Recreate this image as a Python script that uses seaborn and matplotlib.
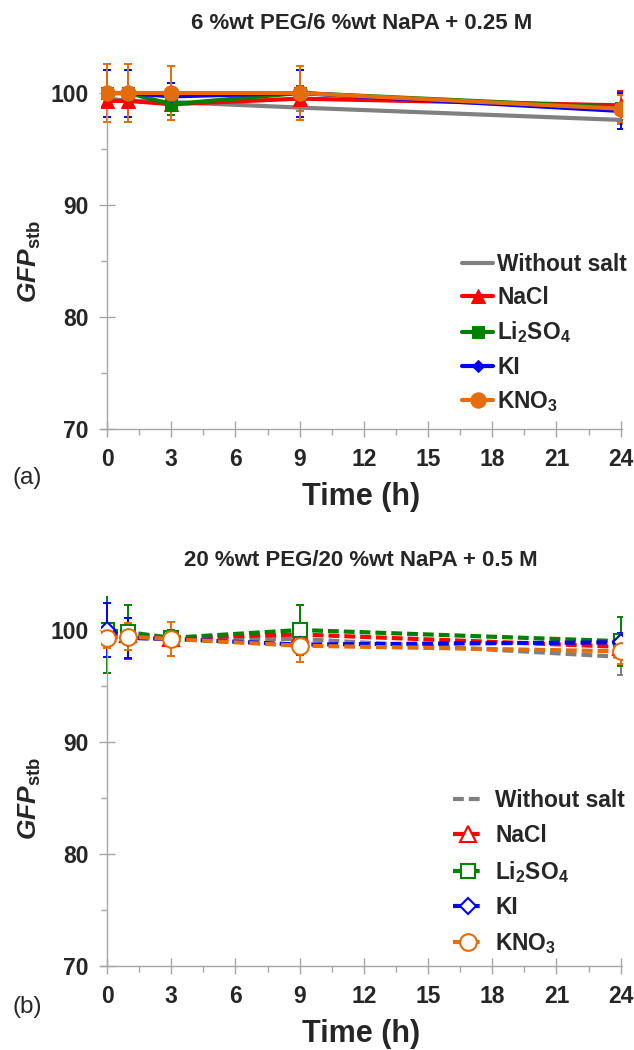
import matplotlib
matplotlib.use('Agg')
import matplotlib.pyplot as plt
import seaborn as sns
from matplotlib.ticker import MultipleLocator

sns.set_style('white')
plt.rcParams['font.family'] = ['Liberation Sans', 'DejaVu Sans']
plt.rcParams['font.weight'] = 'bold'
plt.rcParams['mathtext.fontset'] = 'custom'
plt.rcParams['mathtext.rm'] = 'Liberation Sans:bold'
plt.rcParams['mathtext.bf'] = 'Liberation Sans:bold'
plt.rcParams['mathtext.it'] = 'Liberation Sans:italic:bold'

# data
times = [0, 1, 3, 9, 24]
salts = ['Without salt', 'NaCl', 'Li$_2$SO$_4$', 'KI', 'KNO$_3$']
colors = ['#808080', '#FF0000', '#008000', '#0000FF', '#E46C0A']
markers = [None, '^', 's', 'D', 'o']

# (a) 6 %wt PEG/6 %wt NaPA + 0.25 M
a_vals = [
    [99.5, 99.3, 99.2, 98.7, 97.6],
    [99.3, 99.3, 99.0, 99.5, 98.9],
    [100.0, 100.0, 99.0, 100.0, 98.7],
    [100.0, 100.0, 99.7, 100.0, 98.4],
    [100.0, 100.0, 100.0, 100.0, 98.6],
]
a_err = [
    [0.3, 0.3, 0.3, 0.3, 0.4],
    [0.5, 0.5, 0.6, 0.8, 1.3],
    [0.4, 0.4, 1.0, 0.6, 1.2],
    [2.1, 2.1, 1.2, 2.1, 1.6],
    [2.6, 2.6, 2.4, 2.4, 1.2],
]
# (b) 20 %wt PEG/20 %wt NaPA + 0.5 M
b_vals = [
    [99.5, 99.3, 99.2, 99.2, 97.6],
    [99.7, 99.6, 99.3, 99.6, 98.5],
    [100.0, 99.8, 99.3, 100.0, 99.0],
    [100.0, 99.3, 99.2, 98.7, 98.9],
    [99.3, 99.4, 99.2, 98.6, 98.1],
]
b_err = [
    [0.5, 1.8, 0.6, 0.8, 1.6],
    [0.6, 0.8, 0.5, 0.8, 1.0],
    [3.8, 2.4, 0.7, 2.2, 2.2],
    [2.4, 1.8, 0.6, 0.6, 0.8],
    [0.9, 1.2, 1.5, 1.5, 1.1],
]

fig = plt.figure(figsize=(6.34, 10.5), dpi=100)
ax1 = fig.add_axes([0.1587, 0.5914, 0.822, 0.352])
ax2 = fig.add_axes([0.1587, 0.0800, 0.822, 0.352])

def draw(ax, vals, errs, dashed, title, leg_xy, lspace):
    for name, c, m, v, e in zip(salts, colors, markers, vals, errs):
        ax.errorbar(times, v, yerr=e, fmt='none', ecolor=c, elinewidth=1.4,
                    capsize=3, capthick=1.4, zorder=2)
        kw = dict(color=c, linewidth=3, ax=ax, label=name, zorder=3)
        if dashed:
            kw['linestyle'] = (0, (2.6, 1.2))
            if m:
                sz = {'^': 11, 's': 10.5, 'D': 8.5, 'o': 12}[m]
                kw.update(marker=m, markersize=sz, markerfacecolor='white',
                          markeredgecolor=c, markeredgewidth=1.5)
        elif m:
            sz = {'^': 10, 's': 9, 'D': 6, 'o': 11}[m]
            kw.update(marker=m, markersize=sz, markeredgecolor=c)
        sns.lineplot(x=times, y=v, **kw)
    ax.set_xlim(-0.3, 24.05)
    ax.set_ylim(70, 103)
    ax.xaxis.set_major_locator(MultipleLocator(3))
    ax.xaxis.set_minor_locator(MultipleLocator(1.5))
    ax.yaxis.set_major_locator(MultipleLocator(10))
    ax.yaxis.set_minor_locator(MultipleLocator(5))
    ax.tick_params(which='major', direction='inout', length=11, width=1,
                   color='#A6A6A6', labelsize=16.5, bottom=True, left=True,
                   pad=8)
    ax.tick_params(which='minor', direction='out', length=4, width=1,
                   color='#A6A6A6', bottom=True, left=True)
    for s in ['top', 'right']:
        ax.spines[s].set_visible(False)
    for s in ['left', 'bottom']:
        ax.spines[s].set_color('#A6A6A6')
        ax.spines[s].set_linewidth(1)
    ax.spines['left'].set_position(('data', 0))
    ax.spines['left'].set_bounds(70, 100)
    ax.set_xlabel('Time (h)', fontsize=22, fontweight='bold', labelpad=8)
    ax.set_ylabel(r'$\mathit{GFP}_{\mathrm{stb}}$', fontsize=19)
    ax.yaxis.set_label_coords(-0.11, 0.4545)
    ax.set_title(title, fontsize=16, fontweight='bold', pad=22)
    leg = ax.legend(loc='upper left', bbox_to_anchor=leg_xy,
                    bbox_transform=fig.transFigure, frameon=False,
                    borderpad=0, borderaxespad=0, fontsize=16.4,
                    handlelength=1.35, handletextpad=0.2 if not dashed else 0.5,
                    labelspacing=lspace)
    for t in leg.get_texts():
        t.set_fontweight('bold')

draw(ax1, a_vals, a_err, False, '6 %wt PEG/6 %wt NaPA + 0.25 M',
     (0.729, 1 - 253 / 1050), 0.45)
draw(ax2, b_vals, b_err, True, '20 %wt PEG/20 %wt NaPA + 0.5 M',
     (0.7145, 1 - 789 / 1050), 0.52)

fig.text(0.02, 1 - 478 / 1050, '(a)', fontsize=17.5, fontweight='normal',
         va='center')
fig.text(0.02, 1 - 1007 / 1050, '(b)', fontsize=17.5, fontweight='normal',
         va='center')

fig.savefig('out.png', dpi=100)
